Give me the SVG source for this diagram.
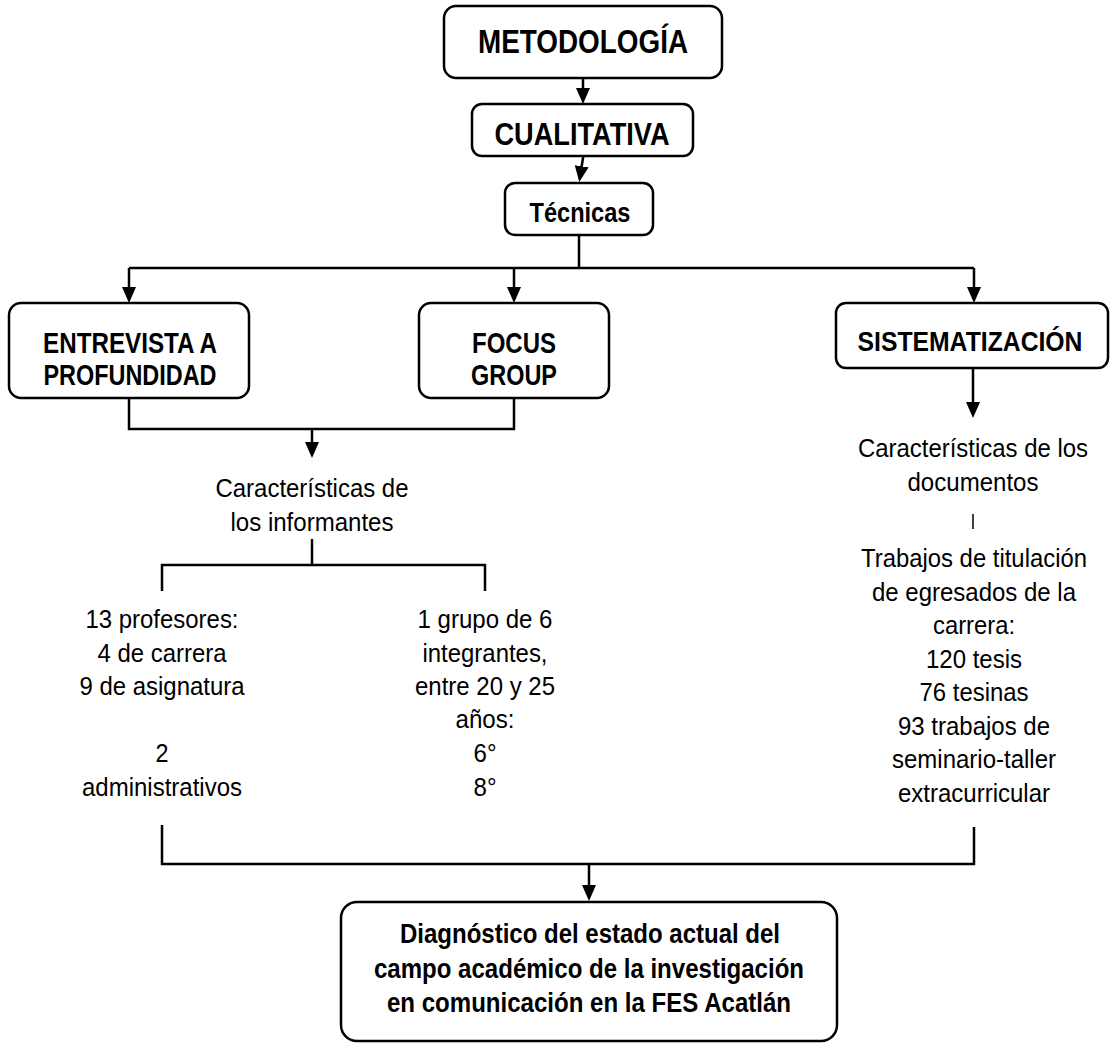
<svg xmlns="http://www.w3.org/2000/svg" width="1110" height="1044" viewBox="0 0 1110 1044">
<style>
.box{fill:#fff;stroke:#000;stroke-width:2.5}
.b{font-family:"Liberation Sans Narrow","Liberation Sans",Arial,sans-serif;font-weight:bold;text-anchor:middle;fill:#000}
.r{font-family:"Liberation Sans Narrow","Liberation Sans",Arial,sans-serif;font-size:26.5px;text-anchor:middle;fill:#000}
.c{fill:none;stroke:#000;stroke-width:2.5}
.a{marker-end:url(#ah)}
</style>
<defs>
<marker id="ah" markerUnits="userSpaceOnUse" markerWidth="18" markerHeight="16" viewBox="0 -8 18 16" refX="2" refY="0" orient="auto">
<path d="M0,-7 L16,0 L0,7 z" fill="#000"/>
</marker>
</defs>
<rect width="1110" height="1044" fill="#fff"/>
<g id="connectors">
<path class="c a" d="M583,78 L583,90"/>
<path class="c a" d="M583.3,156 L581.4,168.2"/>
<path class="c" d="M579,235 L579,268 M129,268 L974,268"/>
<path class="c a" d="M129,268 L129,289"/>
<path class="c a" d="M514,268 L514,289"/>
<path class="c a" d="M974,268 L974,289"/>
<path class="c" d="M129,398 L129,429 L514,429 L514,398"/>
<path class="c a" d="M312,429 L312,444"/>
<path class="c a" d="M973,368 L973,404"/>
<path class="c" d="M312,539 L312,565 M162,591 L162,565 L485,565 L485,591"/>
<path class="c" style="stroke-width:1.5" d="M973,514 L973,529"/>
<path class="c" d="M162,825 L162,864 L974,864 L974,827"/>
<path class="c a" d="M589,864 L589,887"/>
</g>
<g id="metodologia">
<rect class="box" x="444" y="6" width="278" height="72" rx="12"/>
<text class="b" x="583" y="53" font-size="34" textLength="210" lengthAdjust="spacingAndGlyphs">METODOLOGÍA</text>
</g>
<g id="cualitativa">
<rect class="box" x="472" y="104" width="221" height="52" rx="10"/>
<text class="b" x="582" y="145" font-size="31" textLength="175" lengthAdjust="spacingAndGlyphs">CUALITATIVA</text>
</g>
<g id="tecnicas">
<rect class="box" x="505" y="183" width="148" height="52" rx="10"/>
<text class="b" x="580" y="222" font-size="28" textLength="101" lengthAdjust="spacingAndGlyphs">Técnicas</text>
</g>
<g id="entrevista">
<rect class="box" x="9" y="303" width="240" height="95" rx="12"/>
<text class="b" x="130" y="353" font-size="29" textLength="174" lengthAdjust="spacingAndGlyphs">ENTREVISTA A</text>
<text class="b" x="130" y="385" font-size="29" textLength="173" lengthAdjust="spacingAndGlyphs">PROFUNDIDAD</text>
</g>
<g id="focus">
<rect class="box" x="419" y="303" width="190" height="95" rx="12"/>
<text class="b" x="514" y="353" font-size="30" textLength="84" lengthAdjust="spacingAndGlyphs">FOCUS</text>
<text class="b" x="514" y="385" font-size="30" textLength="86" lengthAdjust="spacingAndGlyphs">GROUP</text>
</g>
<g id="sistematizacion">
<rect class="box" x="836" y="303" width="272" height="65" rx="10"/>
<text class="b" x="970" y="351" font-size="27" textLength="225" lengthAdjust="spacingAndGlyphs">SISTEMATIZACIÓN</text>
</g>
<g id="informantes">
<text class="r" x="312" y="497" textLength="193" lengthAdjust="spacingAndGlyphs">Características de</text>
<text class="r" x="312" y="531" textLength="163" lengthAdjust="spacingAndGlyphs">los informantes</text>
</g>
<g id="profesores">
<text class="r" x="162" y="628" textLength="153" lengthAdjust="spacingAndGlyphs">13 profesores:</text>
<text class="r" x="162" y="662" textLength="129" lengthAdjust="spacingAndGlyphs">4 de carrera</text>
<text class="r" x="162" y="695" textLength="165" lengthAdjust="spacingAndGlyphs">9 de asignatura</text>
<text class="r" x="162" y="762" textLength="13" lengthAdjust="spacingAndGlyphs">2</text>
<text class="r" x="162" y="796" textLength="160" lengthAdjust="spacingAndGlyphs">administrativos</text>
</g>
<g id="grupo">
<text class="r" x="485" y="628" textLength="135" lengthAdjust="spacingAndGlyphs">1 grupo de 6</text>
<text class="r" x="485" y="662" textLength="125" lengthAdjust="spacingAndGlyphs">integrantes,</text>
<text class="r" x="485" y="695" textLength="140" lengthAdjust="spacingAndGlyphs">entre 20 y 25</text>
<text class="r" x="485" y="728" textLength="59" lengthAdjust="spacingAndGlyphs">años:</text>
<text class="r" x="485" y="762" textLength="23" lengthAdjust="spacingAndGlyphs">6°</text>
<text class="r" x="485" y="796" textLength="23" lengthAdjust="spacingAndGlyphs">8°</text>
</g>
<g id="documentos">
<text class="r" x="973" y="457" font-size="25" textLength="230" lengthAdjust="spacingAndGlyphs" style="font-size:25px">Características de los</text>
<text class="r" x="973" y="490.5" textLength="131" lengthAdjust="spacingAndGlyphs">documentos</text>
</g>
<g id="trabajos">
<text class="r" x="974" y="567" textLength="226" lengthAdjust="spacingAndGlyphs">Trabajos de titulación</text>
<text class="r" x="974" y="600.5" textLength="204" lengthAdjust="spacingAndGlyphs">de egresados de la</text>
<text class="r" x="974" y="634" textLength="82" lengthAdjust="spacingAndGlyphs">carrera:</text>
<text class="r" x="974" y="667.5" textLength="96" lengthAdjust="spacingAndGlyphs">120 tesis</text>
<text class="r" x="974" y="701" textLength="109" lengthAdjust="spacingAndGlyphs">76 tesinas</text>
<text class="r" x="974" y="734.5" textLength="152" lengthAdjust="spacingAndGlyphs">93 trabajos de</text>
<text class="r" x="974" y="768" textLength="164" lengthAdjust="spacingAndGlyphs">seminario-taller</text>
<text class="r" x="974" y="801.5" textLength="152" lengthAdjust="spacingAndGlyphs">extracurricular</text>
</g>
<g id="diagnostico">
<rect class="box" x="341" y="902" width="496" height="139" rx="16"/>
<text class="b" x="590" y="943" font-size="28" textLength="380" lengthAdjust="spacingAndGlyphs">Diagnóstico del estado actual del</text>
<text class="b" x="589" y="977.5" font-size="28" textLength="430" lengthAdjust="spacingAndGlyphs">campo académico de la investigación</text>
<text class="b" x="589" y="1012" font-size="28" textLength="404" lengthAdjust="spacingAndGlyphs">en comunicación en la FES Acatlán</text>
</g>
</svg>
